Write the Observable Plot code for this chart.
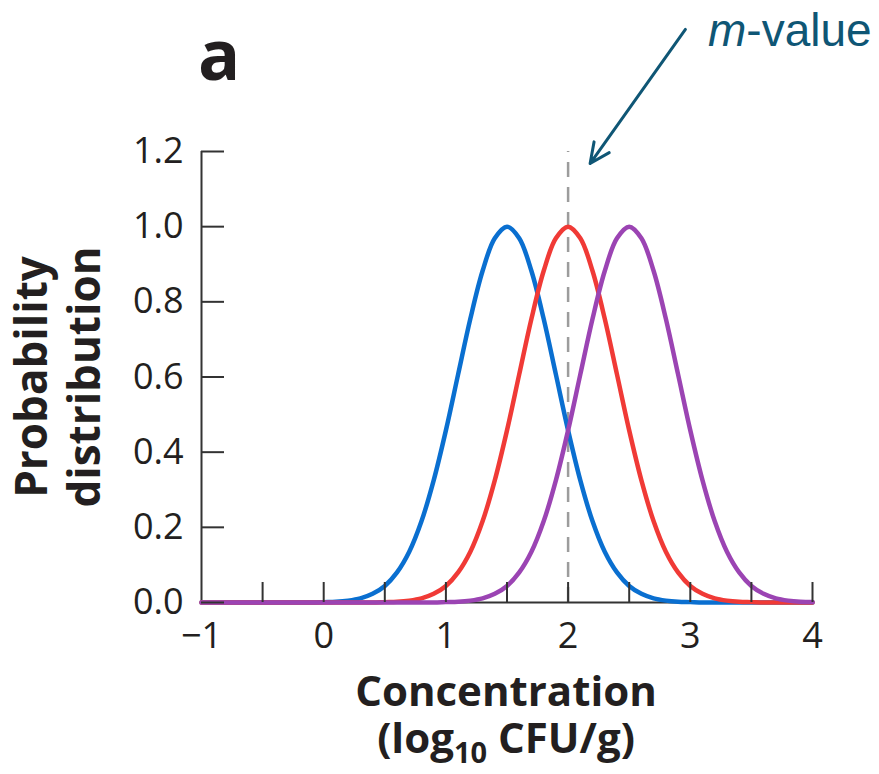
<!DOCTYPE html>
<html><head><meta charset="utf-8">
<script src="https://cdn.jsdelivr.net/npm/d3@7"></script>
<script src="https://cdn.jsdelivr.net/npm/@observablehq/plot@0.6"></script>
<style>body{margin:0;background:#fff}</style>
</head><body><div id="chart"></div>
<script>
// Concentration grid (log10 CFU/g)
const xGrid = [-1.0,-0.9,-0.8,-0.7,-0.6,-0.5,-0.4,-0.3,-0.2,-0.1,
  0.0,0.1,0.2,0.3,0.4,0.5,0.6,0.7,0.8,0.9,
  1.0,1.1,1.2,1.3,1.4,1.5,1.6,1.7,1.8,1.9,
  2.0,2.1,2.2,2.3,2.4,2.5,2.6,2.7,2.8,2.9,
  3.0,3.1,3.2,3.3,3.4,3.5,3.6,3.7,3.8,3.9,4.0];
// Probability distribution
const blueValues = [0,0,0,0,0,0,0,0,0,0,
  0.001,0.002,0.005,0.011,0.023,0.044,0.080,0.135,0.216,0.325,
  0.458,0.607,0.755,0.882,0.969,1.000,0.969,0.882,0.755,0.607,
  0.458,0.325,0.216,0.135,0.080,0.044,0.023,0.011,0.005,0.002,
  0.001,0,0,0,0,0,0,0,0,0,0];
const redValues = [0,0,0,0,0,0,0,0,0,0,
  0,0,0,0,0,0.001,0.002,0.005,0.011,0.023,
  0.044,0.080,0.135,0.216,0.325,0.458,0.607,0.755,0.882,0.969,
  1.000,0.969,0.882,0.755,0.607,0.458,0.325,0.216,0.135,0.080,
  0.044,0.023,0.011,0.005,0.002,0.001,0,0,0,0,0];
const purpleValues = [0,0,0,0,0,0,0,0,0,0,
  0,0,0,0,0,0,0,0,0,0,
  0.001,0.002,0.005,0.011,0.023,0.044,0.080,0.135,0.216,0.325,
  0.458,0.607,0.755,0.882,0.969,1.000,0.969,0.882,0.755,0.607,
  0.458,0.325,0.216,0.135,0.080,0.044,0.023,0.011,0.005,0.002,0.001];
const seriesNames = ["blue","red","purple"];
const seriesColors = ["#0a6fd0","#f03a36","#9b44b3"];
const seriesValues = [blueValues, redValues, purpleValues];

const xDomain = [-1, 4];
const yDomain = [0, 1.2];
const xMinorTicks = [-0.5,0,0.5,1,1.5,2,2.5,3,3.5,4];
const xLabelTicks = [-1,0,1,2,3,4];
const xTickLabels = ["\u22121","0","1","2","3","4"];
const yTicks = [0,0.2,0.4,0.6,0.8,1.0,1.2];
const yTickLabels = ["0.0","0.2","0.4","0.6","0.8","1.0","1.2"];
const mValue = [2];
const mArrow = [{x1: 2.96, y1: 1.525, x2: 2.18, y2: 1.168}];

const panelLabel = "a";
const annotationItalic = "m";
const annotationRest = "-value";
const yTitle = ["Probability", "distribution"];
const xTitleLine1 = "Concentration";

const FONT = "'Open Sans', 'Noto Sans', sans-serif";

const curveMarks = seriesNames.map((name, i) => {
  const data = xGrid.map((x, j) => ({x, y: seriesValues[i][j]}));
  return Plot.line(data, {x: "x", y: "y", stroke: seriesColors[i], strokeWidth: 4.5, curve: "catmull-rom"});
});

const svg = Plot.plot({
  width: 879,
  height: 774,
  marginLeft: 201,
  marginRight: 67,
  marginTop: 151,
  marginBottom: 172,
  style: {fontFamily: FONT, background: "#fff", overflow: "visible"},
  x: {domain: xDomain},
  y: {domain: yDomain},
  marks: [
    Plot.ruleX(mValue, {y1: yDomain[0], y2: yDomain[1], stroke: "#9c9c9c", strokeWidth: 2.5, strokeDasharray: "15,10"}),
    Plot.ruleY([yDomain[0]], {stroke: "#333", strokeWidth: 2}),
    Plot.ruleX([xDomain[0]], {y1: yDomain[0], y2: yDomain[1], stroke: "#333", strokeWidth: 2}),
    ...curveMarks,
    Plot.axisX({ticks: xMinorTicks, tickSize: -20, tickFormat: () => "", stroke: "#333", strokeWidth: 2}),
    Plot.axisX({ticks: xLabelTicks, tickSize: 0, tickPadding: 20, fontSize: 36, fill: "#231f20",
      tickFormat: d => xTickLabels[xLabelTicks.indexOf(d)]}),
    Plot.axisY({ticks: yTicks, tickSize: -23, tickFormat: () => "", stroke: "#333", strokeWidth: 2}),
    Plot.axisY({ticks: yTicks, tickSize: 0, tickPadding: 18, fontSize: 36, fill: "#231f20",
      tickFormat: d => yTickLabels[yTicks.indexOf(d)]}),
    Plot.arrow(mArrow, {x1: "x1", y1: "y1", x2: "x2", y2: "y2", stroke: "#0f5675", strokeWidth: 3, headLength: 11, headAngle: 50})
  ]
});

const s = d3.select(svg);
// panel label
s.append("text").attr("x", 198).attr("y", 80).attr("text-anchor", "start")
  .attr("font-family", FONT).attr("font-weight", 700).attr("font-size", 70).attr("fill", "#231f20")
  .text(panelLabel);
// annotation
const ann = s.append("text").attr("x", 708).attr("y", 46).attr("text-anchor", "start")
  .attr("font-family", "'Liberation Sans', Arial, sans-serif").attr("font-size", 46).attr("fill", "#0f5675");
ann.append("tspan").attr("font-style", "italic").text(annotationItalic);
ann.append("tspan").text(annotationRest);
// y title
[47, 100].forEach((bx, i) => {
  s.append("text").attr("transform", `translate(${bx},377) rotate(-90)`)
    .attr("text-anchor", "middle").attr("font-family", FONT).attr("font-weight", 700)
    .attr("font-size", 44).attr("fill", "#231f20").text(yTitle[i]);
});
// x title
s.append("text").attr("x", 506).attr("y", 706).attr("text-anchor", "middle")
  .attr("font-family", FONT).attr("font-weight", 700).attr("font-size", 42).attr("fill", "#231f20")
  .text(xTitleLine1);
const t2 = s.append("text").attr("x", 506).attr("y", 753).attr("text-anchor", "middle")
  .attr("font-family", FONT).attr("font-weight", 700).attr("font-size", 42).attr("fill", "#231f20");
t2.append("tspan").text("(log");
t2.append("tspan").attr("font-size", 29).attr("dy", 10).text("10");
t2.append("tspan").attr("dy", -10).text(" CFU/g)");

document.getElementById("chart").appendChild(svg);
</script>
</body></html>
